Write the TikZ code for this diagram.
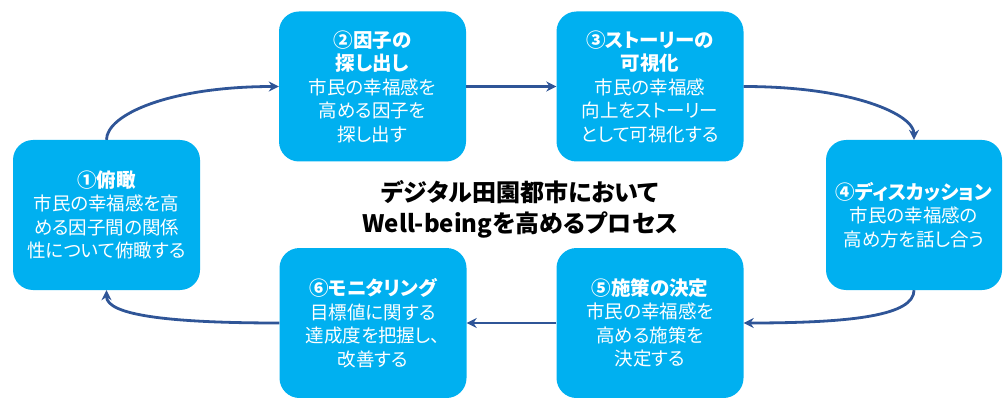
\documentclass[tikz,border=0pt]{standalone}
\usepackage{fontspec}
\setmainfont{Noto Sans CJK JP}[RawFeature=+palt]
\usetikzlibrary{shapes,arrows.meta}
\definecolor{bleuboite}{RGB}{0,176,240}
\definecolor{bleufleche}{RGB}{47,85,151}
\tikzstyle{etape}=[minimum width=187pt,minimum height=150pt,
rectangle,rounded corners=20pt,fill=bleuboite,inner sep=0pt,
text=white,align=center,font=\fontsize{18.5}{23.5}\selectfont]
\tikzstyle{fleche}=[draw=bleufleche,line width=2.8pt,
-{Stealth[length=10pt,width=10pt]}]
\newcommand{\titre}[1]{{\fontsize{19.5}{25}\selectfont\bfseries #1}}
\begin{document}
\begin{tikzpicture}[x=1pt,y=-1pt]
      \useasboundingbox (0,0) rectangle (1003,398);
      \node[etape] (P1) at (106.5,215) {\titre{①俯瞰}\\市民の幸福感を高\\める因子間の関係\\性について俯瞰する};
      \node[etape] (P2) at (372.5,86.5) {\titre{②因子の}\\\titre{探し出し}\\市民の幸福感を\\高める因子を\\探し出す};
      \node[etape] (P3) at (650,86.5) {\titre{③ストーリーの}\\\titre{可視化}\\市民の幸福感\\向上をストーリー\\として可視化する};
      \node[etape,minimum width=176pt] (P4) at (914,215) {\titre{④ディスカッション}\\市民の幸福感の\\高め方を話し合う};
      \node[etape] (P5) at (650,323) {\titre{⑤施策の決定}\\市民の幸福感を\\高める施策を\\決定する};
      \node[etape] (P6) at (373,323) {\titre{⑥モニタリング}\\目標値に関する\\達成度を把握し、\\改善する};
      \node[align=center,font=\fontsize{24}{31}\selectfont\bfseries] (T) at (520,209) {デジタル田園都市において\\Well-beingを高めるプロセス};

      \draw[fleche] (P1.north) .. controls +(0,-25) and +(-110,0) .. (P2.west);
      \draw[fleche] (P2.east) -- (P3.west);
      \draw[fleche] (P3.east) .. controls +(110,0) and +(0,-25) .. (P4.north);
      \draw[fleche] (P4.south) .. controls +(0,25) and +(110,0) .. (P5.east);
      \draw[fleche] (P5.west) -- (P6.east);
      \draw[fleche] (P6.west) .. controls +(-110,0) and +(0,25) .. (P1.south);
\end{tikzpicture}
\end{document}
